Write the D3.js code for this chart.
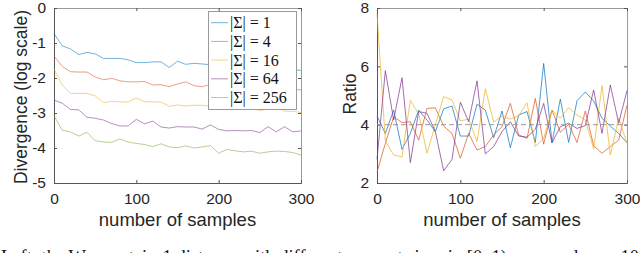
<!DOCTYPE html>
<html>
<head>
<meta charset="utf-8">
<script src="https://cdn.jsdelivr.net/npm/d3@7"></script>
<style>
  body { margin: 0; background: #fff; }
  svg { display: block; }
</style>
</head>
<body>
<script>
const width = 640;
const height = 253;

// number of samples (x axis, shared by both panels)
const samples = d3.range(0, 301, 10);

// left panel: divergence (log scale) for each alphabet size
const sigmaLabels = ["|Σ| = 1", "|Σ| = 4", "|Σ| = 16", "|Σ| = 64", "|Σ| = 256"];
const div1 = [-0.73, -1.08, -1.17, -1.33, -1.27, -1.31, -1.44, -1.44, -1.44, -1.48, -1.56, -1.56, -1.54, -1.54, -1.70, -1.52,
  -1.61, -1.58, -1.60, -1.62, -1.65, -1.66, -1.68, -1.67, -1.70, -1.72, -1.71, -1.74, -1.75, -1.77, -1.78];
const div4 = [-1.37, -1.67, -1.82, -1.83, -1.83, -1.97, -2.05, -2.01, -2.08, -2.11, -2.11, -2.10, -2.20, -2.19, -2.25, -2.17,
  -2.11, -2.22, -2.25, -2.18, -2.20, -2.24, -2.26, -2.25, -2.28, -2.27, -2.30, -2.29, -2.31, -2.33, -2.34];
const div16 = [-1.74, -2.20, -2.44, -2.44, -2.44, -2.51, -2.70, -2.67, -2.68, -2.69, -2.57, -2.68, -2.68, -2.69, -2.81, -2.77,
  -2.80, -2.78, -2.78, -2.81, -2.91, -2.85, -2.84, -2.83, -2.84, -2.93, -2.88, -2.83, -2.95, -2.95, -2.99];
const div64 = [-2.63, -2.72, -2.90, -2.91, -3.12, -3.15, -3.20, -3.30, -3.37, -3.37, -3.18, -3.31, -3.23, -3.40, -3.43, -3.39,
  -3.40, -3.40, -3.46, -3.34, -3.47, -3.51, -3.50, -3.51, -3.50, -3.56, -3.39, -3.54, -3.39, -3.54, -3.51];
const div256 = [-3.08, -3.49, -3.54, -3.66, -3.55, -3.79, -3.83, -3.84, -3.74, -3.83, -3.87, -3.90, -3.96, -3.88, -3.97, -3.99,
  -3.94, -4.00, -3.97, -3.93, -4.15, -4.04, -4.08, -4.11, -4.09, -4.15, -4.11, -4.09, -4.10, -4.13, -4.20];
const divSeries = [div1, div4, div16, div64, div256];

// right panel: ratio between consecutive alphabet sizes
const ratioA = [4.30, 3.70, 4.50, 3.15, 3.70, 4.50, 4.16, 3.76, 4.54, 4.64, 3.61, 3.61, 4.70, 4.50, 3.55, 4.47,
  3.21, 4.33, 4.45, 3.39, 6.10, 3.38, 4.88, 3.39, 4.82, 5.12, 4.81, 4.22, 3.95, 3.70, 3.38];
const ratioB = [2.37, 3.36, 4.27, 4.07, 4.10, 3.47, 4.56, 4.58, 3.95, 3.70, 2.85, 3.70, 3.13, 3.25, 3.65, 3.93,
  4.73, 3.65, 3.53, 4.90, 3.33, 4.50, 3.74, 4.01, 3.39, 4.47, 3.28, 3.02, 3.25, 3.47, 4.67];
const ratioC = [7.82, 3.44, 2.96, 2.90, 4.84, 4.36, 3.02, 4.00, 4.96, 4.85, 4.13, 4.19, 3.42, 5.23, 4.09, 4.29,
  4.19, 4.31, 4.75, 3.25, 3.53, 4.50, 4.22, 4.58, 4.33, 4.16, 3.17, 5.34, 2.96, 4.22, 3.36];
const ratioD = [2.81, 5.85, 4.16, 5.61, 2.70, 4.45, 4.39, 3.76, 2.42, 2.81, 4.77, 4.10, 5.50, 3.00, 3.25, 3.76,
  4.10, 3.61, 3.57, 3.84, 4.73, 3.38, 3.93, 4.05, 3.87, 3.97, 5.19, 3.70, 5.36, 4.05, 5.17];
const ratioSeries = [ratioA, ratioB, ratioC, ratioD];
const ratioRef = 4;

const leftTicksY = [-5, -4, -3, -2, -1, 0];
const rightTicksY = [2, 4, 6, 8];
const ticksX = [0, 100, 200, 300];

const colors = ["#0072BD", "#D95319", "#EDB120", "#7E2F8E", "#77AC30"];
const sansFont = "'Liberation Sans', Arial, Helvetica, sans-serif";
const serifFont = "'Liberation Serif', 'Times New Roman', serif";

const svg = d3.select(document.body).append("svg")
    .attr("width", width)
    .attr("height", height);

function drawPanel(box, yDomain, yTicks, series, lineOpacity) {
    const x = d3.scaleLinear().domain([0, 300]).range([box.x0, box.x1]);
    const y = d3.scaleLinear().domain(yDomain).range([box.y1, box.y0]);
    const g = svg.append("g");

    // box
    g.append("rect")
        .attr("x", box.x0 + 0.5).attr("y", box.y0 + 0.5)
        .attr("width", box.x1 - box.x0).attr("height", box.y1 - box.y0)
        .attr("fill", "none")
        .attr("stroke", "#9a9a9a");

    const styleAxis = sel => {
        sel.select(".domain").remove();
        sel.selectAll(".tick line").attr("stroke", "#555");
        sel.selectAll("text")
            .attr("font-family", sansFont)
            .attr("font-size", "15.5px")
            .attr("fill", "#262626");
    };
    const plain = d => String(d);   // hyphen minus like the original

    g.append("g")
        .attr("transform", `translate(0,${box.y1})`)
        .call(d3.axisBottom(x).tickValues(ticksX).tickSize(-3).tickPadding(10).tickFormat(plain))
        .call(styleAxis);
    g.append("g")
        .attr("transform", `translate(0,${box.y0})`)
        .call(d3.axisTop(x).tickValues(ticksX).tickSize(-3).tickFormat(""))
        .call(styleAxis);
    g.append("g")
        .attr("transform", `translate(${box.x0},0)`)
        .call(d3.axisLeft(y).tickValues(yTicks).tickSize(-3).tickPadding(8).tickFormat(plain))
        .call(styleAxis);
    g.append("g")
        .attr("transform", `translate(${box.x1},0)`)
        .call(d3.axisRight(y).tickValues(yTicks).tickSize(-3).tickFormat(""))
        .call(styleAxis);

    // left and bottom axis lines darker
    g.append("line")
        .attr("x1", box.x0 + 0.5).attr("x2", box.x0 + 0.5)
        .attr("y1", box.y0).attr("y2", box.y1 + 0.5)
        .attr("stroke", "#555");
    g.append("line")
        .attr("x1", box.x0).attr("x2", box.x1 + 0.5)
        .attr("y1", box.y1 + 0.5).attr("y2", box.y1 + 0.5)
        .attr("stroke", "#555");

    const line = d3.line()
        .x((d, i) => x(samples[i]))
        .y(d => y(d));

    g.append("g")
        .selectAll("path")
        .data(series)
        .join("path")
        .attr("d", line)
        .attr("fill", "none")
        .attr("stroke", (d, i) => colors[i])
        .attr("stroke-opacity", lineOpacity)
        .attr("stroke-width", 1);

    g.append("text")
        .attr("x", (box.x0 + box.x1) / 2)
        .attr("y", 226)
        .attr("text-anchor", "middle")
        .attr("font-family", sansFont)
        .attr("font-size", "18.5px")
        .attr("fill", "#262626")
        .text("number of samples");

    return {g, x, y};
}

// left panel
const left = drawPanel({x0: 54, x1: 301, y0: 8, y1: 183}, [-5, 0], leftTicksY, divSeries, 0.55);
left.g.append("text")
    .attr("transform", "translate(27,97) rotate(-90)")
    .attr("text-anchor", "middle")
    .attr("font-family", sansFont)
    .attr("font-size", "17.5px")
    .attr("fill", "#262626")
    .text("Divergence (log scale)");

// legend
const legend = left.g.append("g");
legend.append("rect")
    .attr("x", 208.5).attr("y", 11.5)
    .attr("width", 88).attr("height", 98)
    .attr("fill", "#fff")
    .attr("stroke", "#9a9a9a");
const entry = legend.selectAll("g.entry")
    .data(sigmaLabels)
    .join("g")
    .attr("class", "entry")
    .attr("transform", (d, i) => `translate(0,${22.7 + i * 18.7})`);
entry.append("line")
    .attr("x1", 211).attr("x2", 228)
    .attr("stroke", (d, i) => colors[i])
    .attr("stroke-opacity", 0.55);
entry.append("text")
    .attr("x", 230)
    .attr("y", 5.5)
    .attr("font-family", serifFont)
    .attr("font-size", "16px")
    .attr("fill", "#111")
    .text(d => d);

// right panel
const right = drawPanel({x0: 377, x1: 627, y0: 8, y1: 183}, [2, 8], rightTicksY, ratioSeries, 0.7);
right.g.append("line")
    .attr("x1", right.x(0)).attr("x2", right.x(300))
    .attr("y1", right.y(ratioRef)).attr("y2", right.y(ratioRef))
    .attr("stroke", "#999")
    .attr("stroke-dasharray", "5,3");
right.g.append("text")
    .attr("transform", "translate(356,94) rotate(-90)")
    .attr("text-anchor", "middle")
    .attr("font-family", sansFont)
    .attr("font-size", "17.5px")
    .attr("fill", "#262626")
    .text("Ratio");

// caption, cut off by the bottom edge as in the source
svg.append("text")
    .attr("x", 1)
    .attr("y", 263)
    .attr("font-family", serifFont)
    .attr("font-size", "18.5px")
    .attr("fill", "#111")
    .text("Left: the Wasserstein-1 distance with different support sizes in [0, 1) averaged over 10 replicates, line");
</script>
</body>
</html>
